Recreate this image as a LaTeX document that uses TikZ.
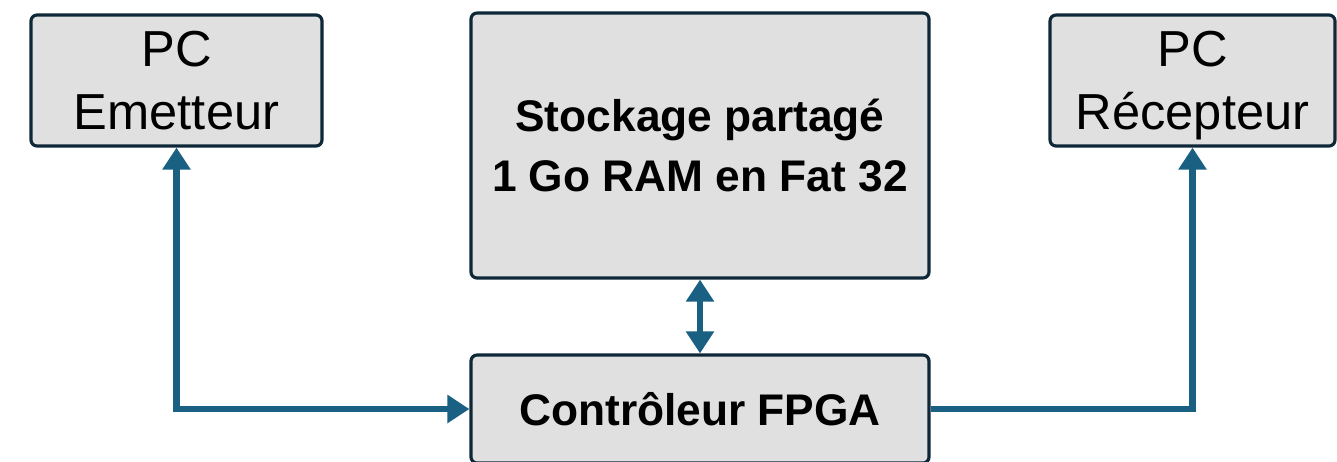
\documentclass[tikz,border=0pt]{standalone}
\usepackage{fontspec}
\setmainfont{Liberation Sans}
\usepackage{tikz}
\usetikzlibrary{positioning}
\usetikzlibrary{%
  arrows.meta%
}
\definecolor{boxfill}{RGB}{224,224,224}
\definecolor{boxline}{RGB}{14,40,56}
\definecolor{linkblue}{RGB}{25,96,131}

\begin{document}
\begin{tikzpicture}[
	>={Triangle[width=0.27cm,length=0.22cm]},
	bloc/.style={rectangle, rounded corners=0.6mm, draw=boxline, fill=boxfill, line width=0.9pt, inner sep=0pt, align=center},
	pc/.style={bloc, font=\fontsize{14.4}{18}\selectfont},
	main/.style={bloc, font=\fontsize{12.6}{17}\selectfont\bfseries},
	link/.style={draw=linkblue, line width=1.9pt}
]
\useasboundingbox (0,0) rectangle (13.37,-4.61);

\node[pc, minimum width=2.91cm, minimum height=1.31cm] (emet) at (1.765,-0.805) {PC\\Emetteur};
\node[main, minimum width=4.58cm, minimum height=2.65cm] (stock) at (7.00,-1.455) {Stockage partagé\\1 Go RAM en Fat 32};
\node[pc, minimum width=2.85cm, minimum height=1.31cm] (recep) at (11.925,-0.805) {PC\\\raisebox{0pt}[\height][0pt]{Récepteur}};
\node[main, minimum width=4.58cm, minimum height=1.08cm] (fpga) at (7.00,-4.09) {Contrôleur FPGA};

\draw[link, <->] (fpga.west) -| (emet.south);
\draw[link, ->] (fpga.east) -| (recep.south);
\draw[link, <->] (stock.south) -- (fpga.north);
\end{tikzpicture}
\end{document}
